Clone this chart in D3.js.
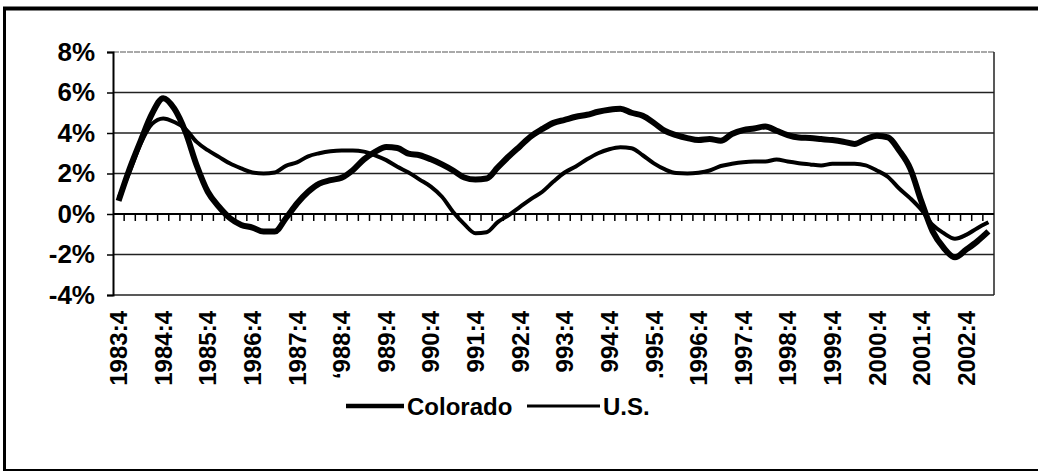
<!DOCTYPE html>
<html>
<head>
<meta charset="utf-8">
<script src="https://cdn.jsdelivr.net/npm/d3@7"></script>
<style>
  body { margin: 0; background: #fff; }
  svg text { font-family: "Liberation Sans", Arial, sans-serif; font-weight: bold; fill: #000; }
</style>
</head>
<body>
<svg id="chart" width="1038" height="473"></svg>
<script>
// quarters on the category axis
const quarters = [
  '1983:4',
  '1984:1', '1984:2', '1984:3', '1984:4',
  '1985:1', '1985:2', '1985:3', '1985:4',
  '1986:1', '1986:2', '1986:3', '1986:4',
  '1987:1', '1987:2', '1987:3', '1987:4',
  '1988:1', '1988:2', '1988:3', '1988:4',
  '1989:1', '1989:2', '1989:3', '1989:4',
  '1990:1', '1990:2', '1990:3', '1990:4',
  '1991:1', '1991:2', '1991:3', '1991:4',
  '1992:1', '1992:2', '1992:3', '1992:4',
  '1993:1', '1993:2', '1993:3', '1993:4',
  '1994:1', '1994:2', '1994:3', '1994:4',
  '1995:1', '1995:2', '1995:3', '1995:4',
  '1996:1', '1996:2', '1996:3', '1996:4',
  '1997:1', '1997:2', '1997:3', '1997:4',
  '1998:1', '1998:2', '1998:3', '1998:4',
  '1999:1', '1999:2', '1999:3', '1999:4',
  '2000:1', '2000:2', '2000:3', '2000:4',
  '2001:1', '2001:2', '2001:3', '2001:4',
  '2002:1', '2002:2', '2002:3', '2002:4',
  '2003:1', '2003:2'
];

// year-over-year job growth, percent
const colorado = [
  0.65,
  2.25, 3.64, 4.95, 5.72,
  5.2, 4.05, 2.41, 1.1,
  0.36, -0.21, -0.54, -0.67,
  -0.87, -0.87, -0.21, 0.52,
  1.1, 1.5, 1.67, 1.79,
  2.16, 2.7, 3.07, 3.31,
  3.26, 2.98, 2.9, 2.7,
  2.45, 2.15, 1.8, 1.7,
  1.75, 2.3, 2.85, 3.35,
  3.85, 4.2, 4.5, 4.65,
  4.8, 4.9, 5.05, 5.15,
  5.2, 5.0, 4.85, 4.5,
  4.1, 3.9, 3.75, 3.65,
  3.7, 3.62, 3.95, 4.14,
  4.22, 4.32, 4.11, 3.9,
  3.78, 3.75, 3.7, 3.65,
  3.57, 3.46, 3.7, 3.87,
  3.78, 3.13, 2.23, 0.6,
  -0.86, -1.68, -2.14, -1.76,
  -1.35, -0.86
];

const us = [
  0.8,
  2.1, 3.5, 4.45, 4.72,
  4.54, 4.2, 3.56, 3.15,
  2.82, 2.49, 2.25, 2.05,
  2.0, 2.05, 2.38, 2.55,
  2.85, 3.0, 3.1, 3.14,
  3.14, 3.08, 2.9, 2.66,
  2.33, 2.05, 1.7, 1.35,
  0.85, 0.1, -0.5, -0.95,
  -0.9, -0.4, -0.05, 0.35,
  0.75, 1.1, 1.6, 2.05,
  2.35, 2.7, 3.0, 3.2,
  3.3, 3.25, 2.9, 2.5,
  2.2, 2.02, 2.0, 2.04,
  2.15, 2.37, 2.48, 2.56,
  2.59, 2.59, 2.69, 2.59,
  2.51, 2.45, 2.4, 2.48,
  2.48, 2.48, 2.4, 2.15,
  1.83, 1.26, 0.77, 0.2,
  -0.54, -0.95, -1.22, -1.03,
  -0.7, -0.41
];

// labels printed under every fourth quarter (as they appear in the scan)
const labelQuarters = ['1983:4', '1984:4', '1985:4', '1986:4', '1987:4', '1988:4', '1989:4',
  '1990:4', '1991:4', '1992:4', '1993:4', '1994:4', '1995:4', '1996:4', '1997:4',
  '1998:4', '1999:4', '2000:4', '2001:4', '2002:4'];
const labelTexts = ['1983:4', '1984:4', '1985:4', '1986:4', '1987:4', '\u2018988:4', '989:4',
  '990:4', '991:4', '992:4', '993:4', '994:4', '.995:4', '1996:4', '1997:4',
  '1998:4', '1999:4', '2000:4', '2001:4', '2002:4'];

const yTicks = [-4, -2, 0, 2, 4, 6, 8];

const seriesNames = ['Colorado', 'U.S.'];

const svg = d3.select('#chart');
const margin = { top: 52, right: 44, bottom: 178, left: 113 };
const width = 1038;
const height = 473;

// outer frame of the scanned figure
svg.append('line').attr('x1', 3).attr('x2', width).attr('y1', 8.5).attr('y2', 8.5)
  .attr('stroke', '#000').attr('stroke-width', 4);
svg.append('line').attr('x1', 4.5).attr('x2', 4.5).attr('y1', 7).attr('y2', 471)
  .attr('stroke', '#000').attr('stroke-width', 3);
svg.append('line').attr('x1', 3).attr('x2', width).attr('y1', 470).attr('y2', 470)
  .attr('stroke', '#000').attr('stroke-width', 2);

const x = d3.scaleBand()
  .domain(quarters)
  .range([margin.left, width - margin.right])
  .paddingInner(0)
  .paddingOuter(0);

const y = d3.scaleLinear()
  .domain([-4, 8])
  .range([height - margin.bottom, margin.top]);

const cx = q => x(q) + x.bandwidth() / 2;

// gridlines
svg.append('g')
  .selectAll('line')
  .data(yTicks.filter(d => d !== 0))
  .enter()
  .append('line')
  .attr('x1', margin.left)
  .attr('x2', width - margin.right)
  .attr('y1', d => y(d))
  .attr('y2', d => y(d))
  .attr('stroke', d => (d === 8 ? '#555' : '#222'))
  .attr('stroke-width', d => (d === 8 ? 1.2 : 1.5))
  .attr('stroke-dasharray', d => (d === 8 ? '6,1' : null));

// right border of plot
svg.append('line')
  .attr('x1', width - margin.right).attr('x2', width - margin.right)
  .attr('y1', y(8)).attr('y2', y(-4))
  .attr('stroke', '#222').attr('stroke-width', 1.5);

// y axis
const yAxis = svg.append('g')
  .attr('transform', `translate(${margin.left},0)`)
  .call(d3.axisLeft(y).tickValues(yTicks).tickSize(6).tickPadding(12)
    .tickFormat(d => `${d}%`));
yAxis.select('.domain').attr('stroke', '#000').attr('stroke-width', 2);
yAxis.selectAll('.tick line').attr('stroke', '#000').attr('stroke-width', 1.5);
yAxis.selectAll('.tick text')
  .attr('font-size', 26)
  .attr('font-family', '"Liberation Sans", Arial, sans-serif')
  .attr('font-weight', 'bold');

// category axis along 0%, ticks between quarters
const zeroY = y(0);
svg.append('line')
  .attr('x1', margin.left).attr('x2', width - margin.right)
  .attr('y1', zeroY).attr('y2', zeroY)
  .attr('stroke', '#000').attr('stroke-width', 2);
svg.append('g')
  .selectAll('line')
  .data(quarters.slice(1))
  .enter()
  .append('line')
  .attr('x1', d => x(d)).attr('x2', d => x(d))
  .attr('y1', zeroY).attr('y2', zeroY + 7)
  .attr('stroke', '#000').attr('stroke-width', 1.5);

// category labels
svg.append('g')
  .selectAll('text')
  .data(labelQuarters)
  .enter()
  .append('text')
  .attr('transform', d => `translate(${cx(d)},${y(-4) + 16}) rotate(-90)`)
  .attr('text-anchor', 'end')
  .attr('dy', '0.36em')
  .attr('font-size', 24)
  .text((d, i) => labelTexts[i]);

// series lines
const line = d3.line()
  .x((d, i) => cx(quarters[i]))
  .y(d => y(d))
  .curve(d3.curveMonotoneX);

svg.append('path')
  .datum(us)
  .attr('d', line)
  .attr('fill', 'none')
  .attr('stroke', '#000')
  .attr('stroke-width', 4)
  .attr('stroke-linejoin', 'round');

svg.append('path')
  .datum(colorado)
  .attr('d', line)
  .attr('fill', 'none')
  .attr('stroke', '#000')
  .attr('stroke-width', 6)
  .attr('stroke-linejoin', 'round');

// legend
const legendY = 406;
const legend = svg.append('g');
const legendItems = [
  { name: seriesNames[0], x1: 346, x2: 404, w: 4.5 },
  { name: seriesNames[1], x1: 527, x2: 600, w: 3 }
];
legendItems.forEach(item => {
  legend.append('line')
    .attr('x1', item.x1).attr('x2', item.x2)
    .attr('y1', legendY).attr('y2', legendY)
    .attr('stroke', '#000').attr('stroke-width', item.w);
  legend.append('text')
    .attr('x', item.x2 + 3)
    .attr('y', legendY)
    .attr('dy', '0.36em')
    .attr('font-size', 24)
    .text(item.name);
});
</script>
</body>
</html>
